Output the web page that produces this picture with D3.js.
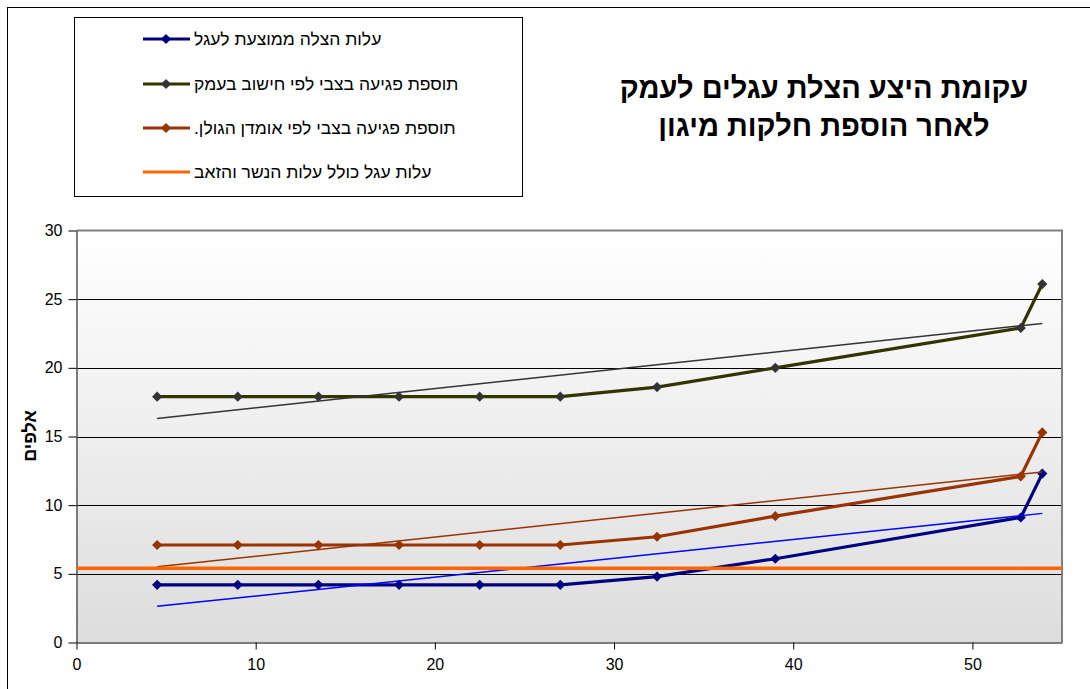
<!DOCTYPE html>
<html>
<head>
<meta charset="utf-8">
<script src="https://cdn.jsdelivr.net/npm/d3@7"></script>
<style>
  html, body { margin: 0; padding: 0; background: #fff; }
  svg { display: block; font-family: "Liberation Sans", Arial, sans-serif; }
</style>
</head>
<body>
<svg id="chart" width="1090" height="689"></svg>
<script>
// Calf-rescue supply curve data (x = calves, y = thousands)
const calfCount = [4.5, 9, 13.5, 18, 22.5, 27, 32.4, 39, 52.7, 53.9];
const avgRescueCost = [4.2, 4.2, 4.2, 4.2, 4.2, 4.2, 4.8, 6.1, 9.1, 12.3];
const valleyDamage = [17.9, 17.9, 17.9, 17.9, 17.9, 17.9, 18.6, 20.0, 22.9, 26.1];
const golanDamage = [7.1, 7.1, 7.1, 7.1, 7.1, 7.1, 7.7, 9.2, 12.1, 15.3];
const calfCostWithPredators = 5.4;

const seriesNames = [
  "עלות הצלה ממוצעת לעגל",
  "תוספת פגיעה בצבי לפי חישוב בעמק",
  "תוספת פגיעה בצבי לפי אומדן הגולן.",
  "עלות עגל כולל עלות הנשר והזאב"
];
const titleLines = ["עקומת היצע הצלת עגלים לעמק", "לאחר הוספת חלקות מיגון"];
const yAxisTitle = "אלפים";
const xTicks = [0, 10, 20, 30, 40, 50];
const yTicks = [0, 5, 10, 15, 20, 25, 30];

const svg = d3.select("#chart");

// outer chart frame
svg.append("rect")
  .attr("x", 7.5).attr("y", 7.5)
  .attr("width", 1100).attr("height", 700)
  .attr("fill", "#fff").attr("stroke", "#000").attr("stroke-width", 1);

const plot = { left: 76.5, top: 230.5, right: 1062, bottom: 642.5 };

const x = d3.scaleLinear().domain([0, 55]).range([plot.left, plot.right]);
const y = d3.scaleLinear().domain([0, 30]).range([plot.bottom, plot.top]);

// plot background gradient
const defs = svg.append("defs");
const grad = defs.append("linearGradient")
  .attr("id", "plotBg").attr("x1", 0).attr("y1", 0).attr("x2", 0).attr("y2", 1);
grad.append("stop").attr("offset", "0%").attr("stop-color", "#ffffff");
grad.append("stop").attr("offset", "100%").attr("stop-color", "#dddddd");

svg.append("rect")
  .attr("x", plot.left).attr("y", plot.top)
  .attr("width", plot.right - plot.left).attr("height", plot.bottom - plot.top)
  .attr("fill", "url(#plotBg)");

// horizontal gridlines
svg.append("g")
  .selectAll("line")
  .data(yTicks.filter(d => d > 0 && d < 30))
  .join("line")
  .attr("x1", plot.left).attr("x2", plot.right)
  .attr("y1", d => Math.round(y(d)) + 0.5).attr("y2", d => Math.round(y(d)) + 0.5)
  .attr("stroke", "#000").attr("stroke-width", 1);

// plot frame (top / right)
svg.append("path")
  .attr("d", `M${plot.left},${plot.top}H${plot.right}V${plot.bottom}`)
  .attr("fill", "none").attr("stroke", "#808080").attr("stroke-width", 2);

// axes
const yAxis = svg.append("g")
  .attr("transform", `translate(${plot.left},0)`)
  .call(d3.axisLeft(y).tickValues(yTicks).tickSize(8).tickPadding(6).tickSizeOuter(0));
const xAxis = svg.append("g")
  .attr("transform", `translate(0,${plot.bottom})`)
  .call(d3.axisBottom(x).tickValues(xTicks).tickSize(7).tickPadding(9).tickSizeOuter(0));

[yAxis, xAxis].forEach(a => {
  a.select(".domain").attr("stroke", "#555").attr("stroke-width", 1.5);
  a.selectAll(".tick line").attr("stroke", "#000");
  a.selectAll(".tick text")
    .attr("fill", "#000")
    .style("font-family", "'Liberation Sans', Arial, sans-serif")
    .style("font-size", "16px");
});

// linear least-squares trend over a series
function trend(xs, ys) {
  const mx = d3.mean(xs), my = d3.mean(ys);
  let sxy = 0, sxx = 0;
  xs.forEach((v, i) => { sxy += (v - mx) * (ys[i] - my); sxx += (v - mx) ** 2; });
  const b = sxy / sxx, a = my - b * mx;
  const x0 = d3.min(xs), x1 = d3.max(xs);
  return [[x0, a + b * x0], [x1, a + b * x1]];
}

const series = [
  { values: golanDamage, line: "#993300", marker: "#993300", trend: "#993300" },
  { values: avgRescueCost, line: "#000080", marker: "#000080", trend: "#0000ff" },
  { values: valleyDamage, line: "#333300", marker: "#333333", trend: "#333333" }
];

const lineGen = d3.line().x(d => x(d[0])).y(d => y(d[1]));
const diamond = d3.symbol().type(d3.symbolSquare).size(52);

const seriesG = svg.append("g");
series.forEach(s => {
  const pts = calfCount.map((c, i) => [c, s.values[i]]);
  seriesG.append("path")
    .attr("d", lineGen(pts))
    .attr("fill", "none").attr("stroke", s.line).attr("stroke-width", 3.2)
    .attr("stroke-linejoin", "round");
  seriesG.selectAll(null)
    .data(pts)
    .join("path")
    .attr("d", diamond)
    .attr("transform", d => `translate(${x(d[0])},${y(d[1])}) rotate(45)`)
    .attr("fill", s.marker);
});

// trend lines
series.forEach(s => {
  svg.append("path")
    .attr("d", lineGen(trend(calfCount, s.values)))
    .attr("fill", "none").attr("stroke", s.trend).attr("stroke-width", 1.5);
});

// constant cost line across the full axis range
svg.append("line")
  .attr("x1", x(0)).attr("x2", x(55))
  .attr("y1", y(calfCostWithPredators)).attr("y2", y(calfCostWithPredators))
  .attr("stroke", "#ff6600").attr("stroke-width", 3.5);

// y-axis title
svg.append("text")
  .attr("transform", `translate(36,436) rotate(-90)`)
  .attr("text-anchor", "middle")
  .style("font-size", "18px").style("font-weight", "bold")
  .text(yAxisTitle);

// title
svg.append("g").selectAll("text")
  .data(titleLines)
  .join("text")
  .attr("x", 824).attr("y", (d, i) => 98 + i * 38)
  .attr("text-anchor", "middle")
  .style("font-size", "29px").style("font-weight", "bold")
  .text(d => d);

// legend
const legend = svg.append("g");
legend.append("rect")
  .attr("x", 74.5).attr("y", 17.5).attr("width", 448).attr("height", 179)
  .attr("fill", "#fff").attr("stroke", "#000").attr("stroke-width", 1);

const legendItems = [
  { color: "#000080", marker: "#000080" },
  { color: "#333300", marker: "#333333" },
  { color: "#993300", marker: "#993300" },
  { color: "#ff6600", marker: null }
];
const legendY = [39, 84, 128, 172];
legendItems.forEach((it, i) => {
  const g = legend.append("g").attr("transform", `translate(0,${legendY[i]})`);
  g.append("line").attr("x1", 143).attr("x2", 190).attr("y1", 0).attr("y2", 0)
    .attr("stroke", it.color).attr("stroke-width", 3.2);
  if (it.marker) {
    g.append("path").attr("d", diamond)
      .attr("transform", "translate(166,0) rotate(45)").attr("fill", it.marker);
  }
  g.append("text")
    .attr("x", 194).attr("y", 6)
    .attr("text-anchor", "end")
    .style("direction", "rtl")
    .style("font-size", "17.5px")
    .text(seriesNames[i]);
});
</script>
</body>
</html>
